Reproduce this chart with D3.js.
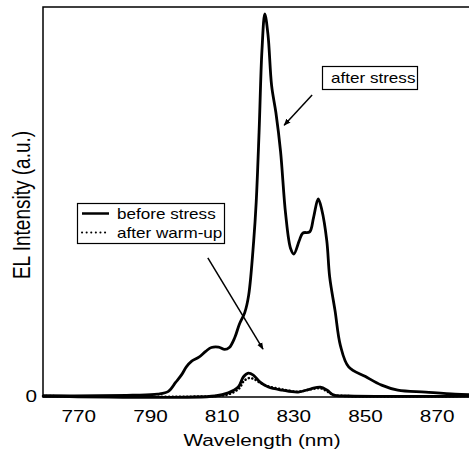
<!DOCTYPE html>
<html>
<head>
<meta charset="utf-8">
<script src="https://cdn.jsdelivr.net/npm/d3@7"></script>
<style>
body { margin: 0; background: white; }
text { font-family: "Liberation Sans", Arial, Helvetica, sans-serif; fill: black; }
</style>
</head>
<body>
<div id="chart"></div>
<script>
// EL spectra, intensity in arbitrary units (peak of "after stress" ~ 1)
var stress_wl = [760, 785, 792, 795, 797, 798.7, 800, 801.5, 803.5, 805.4, 807, 809, 810.7, 812,
                 813.5, 814.8, 816.3, 817.4, 818.8, 819.5, 820.3, 821.1, 821.9, 822.8, 823.8, 825,
                 826.3, 827.7, 829.1, 830, 831.5, 832.5, 834.4, 835.5, 836.8, 837.8, 839.2, 840, 841.5, 843,
                 845.3, 850, 854.5, 859, 866.8, 875, 880];
var stress_int = [0, 0.002, 0.005, 0.012, 0.035, 0.055, 0.075, 0.09, 0.10, 0.115, 0.125, 0.126, 0.12, 0.125,
                  0.15, 0.185, 0.215, 0.26, 0.40, 0.50, 0.68, 0.89, 0.985, 0.93, 0.80, 0.73,
                  0.63, 0.47, 0.38, 0.366, 0.40, 0.42, 0.423, 0.46, 0.508, 0.48, 0.40, 0.307, 0.22, 0.13,
                  0.075, 0.05, 0.028, 0.015, 0.01, 0.005, 0.003];

var before_wl = [760, 808, 811.7, 814.5, 815.9, 817.3, 818.7, 820.6, 822.9, 826.8, 831.2, 834.6, 837.4, 839.3, 841, 845, 880];
var before_int = [0, 0, 0.008, 0.023, 0.049, 0.059, 0.054, 0.036, 0.023, 0.015, 0.010, 0.018, 0.023, 0.015, 0.003, 0, 0];

var warmup_wl = [760, 808, 812, 814.8, 816, 817.4, 818.8, 820.6, 822.9, 826.8, 831.2, 834.6, 837.4, 839.3, 841, 845, 880];
var warmup_int = [0, 0, 0.005, 0.02, 0.038, 0.046, 0.044, 0.034, 0.025, 0.017, 0.011, 0.017, 0.02, 0.012, 0.003, 0, 0];

var x_ticks = [770, 790, 810, 830, 850, 870];
var legend_labels = ["before stress", "after warm-up"];

// annotation arrows in data units: [wl0, int0, wl1, int1]
var stress_arrow = [835.1, 0.776, 827.3, 0.698];
var legend_arrow = [806.0, 0.356, 821.4, 0.121];

var width = 469,
    height = 452,
    plot_left = 43,
    plot_top = 7,
    plot_bottom = 397,
    stretch = 1.22;   // text in the original is drawn a bit wide

function zip(a, b) {
    return a.map((d, i) => [d, b[i]]);
}

var svg = d3.select("#chart")
    .append("svg")
    .attr("width", width)
    .attr("height", height);

var defs = svg.append("defs");
defs.append("marker")
    .attr("id", "head")
    .attr("viewBox", "0 0 10 10")
    .attr("refX", 9)
    .attr("refY", 5)
    .attr("markerWidth", 7)
    .attr("markerHeight", 7)
    .attr("markerUnits", "userSpaceOnUse")
    .attr("orient", "auto")
    .append("path")
    .attr("d", "M0,1 L10,5 L0,9 Z")
    .attr("fill", "black");

var x = d3.scaleLinear().domain([760, 880]).range([plot_left, 473]);
var y = d3.scaleLinear().domain([0, 1]).range([396, 8]);

var line = d3.line()
    .x(d => x(d[0]))
    .y(d => y(d[1]))
    .curve(d3.curveCatmullRom.alpha(0.5));

// frame (right side runs off the picture)
svg.append("path")
    .attr("d", "M" + (width + 5) + "," + plot_top + " H" + plot_left + " V" + plot_bottom + " H" + (width + 5))
    .attr("fill", "none")
    .attr("stroke", "black")
    .attr("stroke-width", 1.5);

// curves
svg.append("path")
    .datum(zip(warmup_wl, warmup_int))
    .attr("d", line)
    .attr("fill", "none")
    .attr("stroke", "black")
    .attr("stroke-width", 2.5)
    .attr("stroke-linecap", "round")
    .attr("stroke-dasharray", "0.1,3.5");

svg.append("path")
    .datum(zip(before_wl, before_int))
    .attr("d", line)
    .attr("fill", "none")
    .attr("stroke", "black")
    .attr("stroke-width", 2.8);

svg.append("path")
    .datum(zip(stress_wl, stress_int))
    .attr("d", line)
    .attr("fill", "none")
    .attr("stroke", "black")
    .attr("stroke-width", 2.8);

// text helper, stretched horizontally like the scanned figure
function label(px, py, str, size, anchor, rot) {
    var g = svg.append("g")
        .attr("transform", "translate(" + px + "," + py + ") scale(" + stretch + ",1)" + (rot ? " rotate(" + rot + ")" : ""));
    g.append("text")
        .attr("text-anchor", anchor)
        .style("font-size", size + "px")
        .text(str);
    return g;
}

// x tick labels
x_ticks.forEach(function(t) {
    label(x(t), 422, t, 17, "middle");
});
label(plot_left - 6, y(0) + 6, "0", 17, "end");

// axis titles
label(262, 446, "Wavelength (nm)", 17, "middle");
label(30, 205, "EL Intensity (a.u.)", 19, "middle", -90);

// legend box
svg.append("rect")
    .attr("x", 77.5)
    .attr("y", 203.5)
    .attr("width", 147)
    .attr("height", 40)
    .attr("fill", "white")
    .attr("stroke", "black")
    .attr("stroke-width", 1.2);

svg.append("line")
    .attr("x1", 82).attr("x2", 109)
    .attr("y1", 213.5).attr("y2", 213.5)
    .attr("stroke", "black")
    .attr("stroke-width", 2.5);
svg.append("line")
    .attr("x1", 82).attr("x2", 109)
    .attr("y1", 232.5).attr("y2", 232.5)
    .attr("stroke", "black")
    .attr("stroke-width", 2)
    .attr("stroke-linecap", "round")
    .attr("stroke-dasharray", "0.1,4.5");

legend_labels.forEach(function(s, i) {
    label(117, 218.5 + i * 19, s, 14, "start");
});

// "after stress" box
svg.append("rect")
    .attr("x", 322.5)
    .attr("y", 66.5)
    .attr("width", 95)
    .attr("height", 23)
    .attr("fill", "white")
    .attr("stroke", "black")
    .attr("stroke-width", 1.2);
label(331, 83, "after stress", 14, "start");

// arrows
[stress_arrow, legend_arrow].forEach(function(a) {
    svg.append("line")
        .attr("x1", x(a[0])).attr("y1", y(a[1]))
        .attr("x2", x(a[2])).attr("y2", y(a[3]))
        .attr("stroke", "black")
        .attr("stroke-width", 1.5)
        .attr("marker-end", "url(#head)");
});
</script>
</body>
</html>
